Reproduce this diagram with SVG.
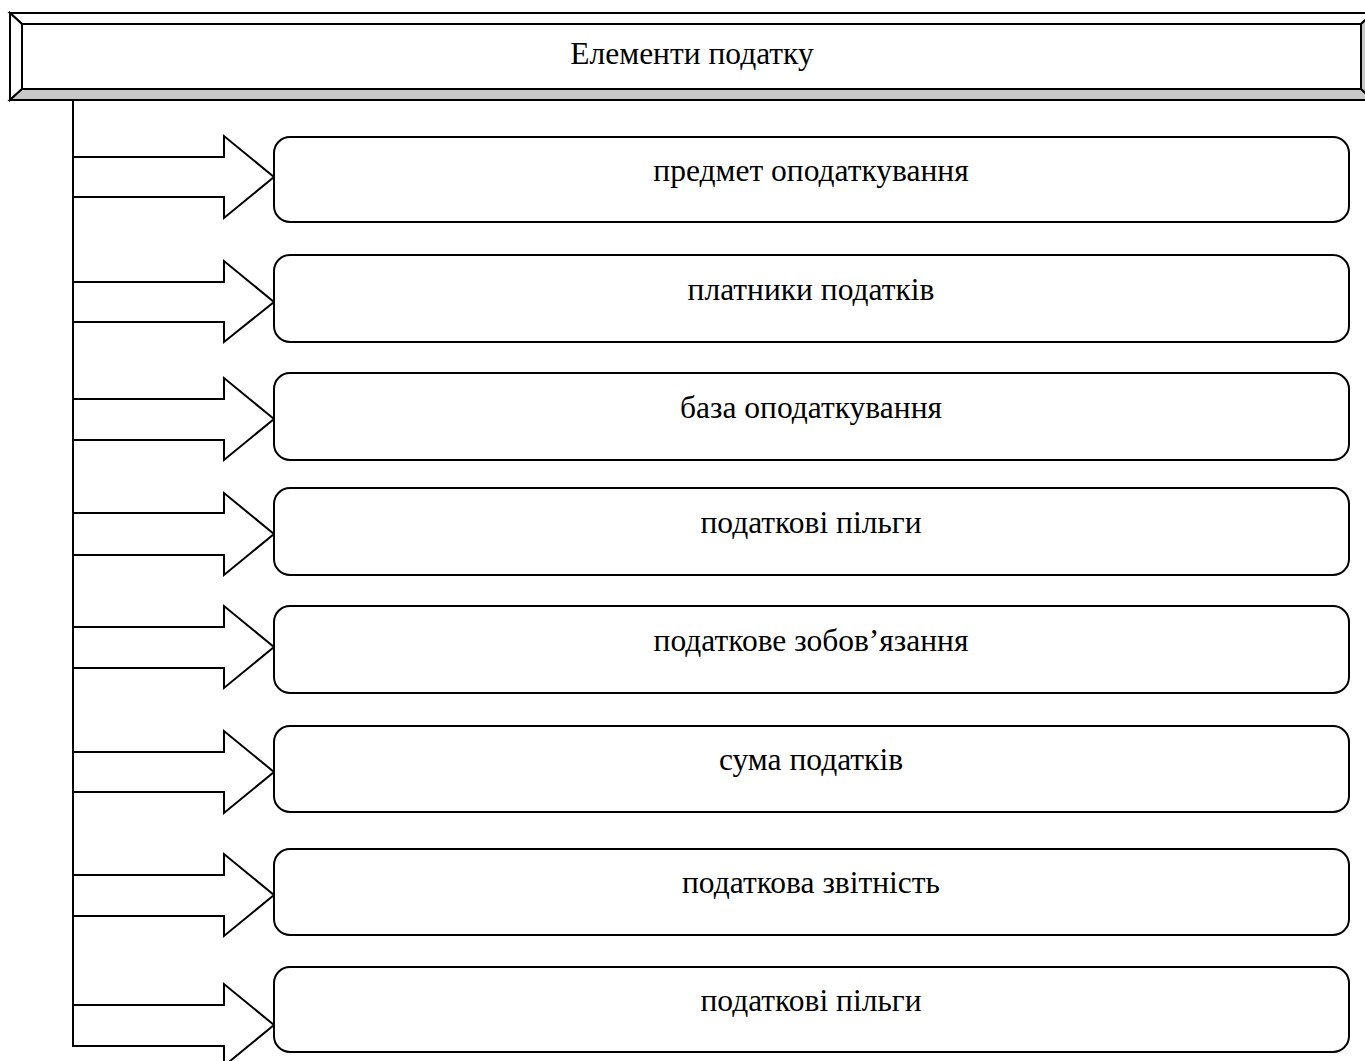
<svg xmlns="http://www.w3.org/2000/svg" width="1365" height="1061" viewBox="0 0 1365 1061">
<style>
.ln{fill:none;stroke:#000;stroke-width:2}
.ar{fill:#fff;stroke:#000;stroke-width:2;stroke-linejoin:miter}
.bx{fill:#fff;stroke:#000;stroke-width:2}
.t{font-family:"Liberation Serif","Times New Roman",serif;font-size:31.5px;fill:#000;text-anchor:middle}
</style>
<rect width="1365" height="1061" fill="#fff"/>
<g id="title">
<polygon points="10,13 1373,13 1361,24 22,24" fill="#fff" stroke="#000" stroke-width="2"/>
<polygon points="10,13 22,24 22,89 10,100" fill="#fff" stroke="#000" stroke-width="2"/>
<polygon points="10,100 22,89 1361,89 1373,100" fill="#c8c8c8" stroke="#000" stroke-width="2"/>
<polygon points="1361,24 1373,13 1373,100 1361,89" fill="#c8c8c8" stroke="#000" stroke-width="2"/>
<rect x="22" y="24" width="1339" height="65" fill="#fff" stroke="#000" stroke-width="2"/>
<text class="t" x="692" y="64">Елементи податку</text>
</g>
<g id="connectors">
<line class="ln" x1="73" y1="100" x2="73" y2="1046"/>
<polygon class="ar" points="73,157 224,157 224,136 274,177 224,218 224,197 73,197"/>
<polygon class="ar" points="73,282 224,282 224,261 274,302 224,342 224,322 73,322"/>
<polygon class="ar" points="73,399 224,399 224,378 274,419 224,460 224,440 73,440"/>
<polygon class="ar" points="73,513 224,513 224,493 274,534 224,575 224,555 73,555"/>
<polygon class="ar" points="73,627 224,627 224,606 274,647 224,688 224,668 73,668"/>
<polygon class="ar" points="73,752 224,752 224,731 274,772 224,813 224,792 73,792"/>
<polygon class="ar" points="73,875 224,875 224,854 274,895 224,936 224,916 73,916"/>
<polygon class="ar" points="73,1005 224,1005 224,984 274,1025 224,1066 224,1046 73,1046"/>
</g>
<g id="n1"><rect class="bx" x="274" y="137" width="1075" height="85" rx="16"/><text class="t" x="811" y="181">предмет оподаткування</text></g>
<g id="n2"><rect class="bx" x="274" y="255" width="1075" height="87" rx="16"/><text class="t" x="811" y="300">платники податків</text></g>
<g id="n3"><rect class="bx" x="274" y="373" width="1075" height="87" rx="16"/><text class="t" x="811" y="418">база оподаткування</text></g>
<g id="n4"><rect class="bx" x="274" y="488" width="1075" height="87" rx="16"/><text class="t" x="811" y="533">податкові пільги</text></g>
<g id="n5"><rect class="bx" x="274" y="606" width="1075" height="87" rx="16"/><text class="t" x="811" y="651">податкове зобов’язання</text></g>
<g id="n6"><rect class="bx" x="274" y="726" width="1075" height="86" rx="16"/><text class="t" x="811" y="770">сума податків</text></g>
<g id="n7"><rect class="bx" x="274" y="849" width="1075" height="86" rx="16"/><text class="t" x="811" y="893">податкова звітність</text></g>
<g id="n8"><rect class="bx" x="274" y="967" width="1075" height="85" rx="16"/><text class="t" x="811" y="1011">податкові пільги</text></g>
</svg>
